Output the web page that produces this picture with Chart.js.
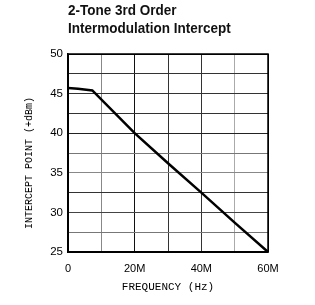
<!DOCTYPE html>
<html><head><meta charset="utf-8">
<script src="https://cdn.jsdelivr.net/npm/chart.js@4"></script>
<style>
html,body{margin:0;padding:0;background:#fff;}
#wrap{position:relative;width:315px;height:305px;}
#title{position:absolute;left:68px;top:1px;font-family:"Liberation Sans Narrow","Liberation Sans",Arial,sans-serif;font-weight:bold;font-size:15px;line-height:18px;color:#111;transform:scaleX(0.9);transform-origin:0 0;white-space:nowrap;}
#ytitle{position:absolute;left:30px;top:163px;width:0;height:0;}
#ytitle span{position:absolute;left:0;top:0;transform:translate(-50%,-50%) rotate(-90deg);white-space:nowrap;font-family:"Liberation Mono",monospace;font-size:10px;line-height:12px;color:#000;}
canvas{position:absolute;left:0;top:0;}
</style></head>
<body><div id="wrap"><canvas id="c" width="315" height="305"></canvas>
<div id="title">2-Tone 3rd Order<br>Intermodulation Intercept</div>
<div id="ytitle"><span id="ytext"></span></div></div>
<script>
const frequencies = [0, 3, 7.3, 20, 30, 40, 50, 60];        // MHz
const interceptPoint = [45.7, 45.6, 45.4, 40, 36.2, 32.5, 28.7, 25]; // +dBm
const xTickLabels = {0:'0', 20:'20M', 40:'40M', 60:'60M'};
const yTicks = [25, 30, 35, 40, 45, 50];
const xTitle = 'FREQUENCY (Hz)';
const yTitle = 'INTERCEPT POINT (+dBm)';
document.getElementById('ytext').textContent = yTitle;

const vColors = {0:'#000',10:'#888',20:'#111',30:'#333',40:'#333',50:'#aaa',60:'#000'};
const hColors = {25:'#000',27.5:'#777',30:'#444',32.5:'#333',35:'#888',37.5:'#777',40:'#222',42.5:'#333',45:'#333',47.5:'#333',50:'#000'};

new Chart(document.getElementById('c'), {
  type: 'line',
  data: {
    datasets: [{
      data: frequencies.map((f, i) => ({x: f, y: interceptPoint[i]})),
      borderColor: '#000', borderWidth: 2.5, pointRadius: 0, tension: 0, fill: false
    }]
  },
  options: {
    responsive: false, animation: false,
    layout: {padding: {top: 54, right: 47, left: 0, bottom: 0}},
    plugins: {legend: {display: false}, tooltip: {enabled: false}},
    scales: {
      x: {
        type: 'linear', min: 0, max: 60,
        afterFit: s => { s.height = 53; },
        border: {display: true, color: '#000', width: 1.5},
        grid: {drawTicks: false, lineWidth: 1, color: c => vColors[c.tick.value] || '#444'},
        ticks: {stepSize: 10, autoSkip: false, maxRotation: 0, padding: 10, color: '#000',
          font: {family: '"Liberation Sans", Arial, sans-serif', size: 11},
          callback: v => xTickLabels[v] !== undefined ? xTickLabels[v] : ''},
        title: {display: true, text: xTitle, color: '#000', padding: {top: 0, bottom: 11},
          font: {family: '"Liberation Mono", monospace', size: 11}}
      },
      y: {
        type: 'linear', min: 25, max: 50,
        afterFit: s => { s.width = 68; },
        border: {display: true, color: '#000', width: 1.5},
        grid: {drawTicks: false, lineWidth: 1, color: c => hColors[c.tick.value] || '#444'},
        ticks: {stepSize: 2.5, autoSkip: false, padding: 5, color: '#000',
          font: {family: '"Liberation Sans", Arial, sans-serif', size: 11.5},
          callback: v => yTicks.includes(v) ? String(v) : ''},
        title: {display: false}
      }
    }
  },
  plugins: [{
    id: 'frame',
    afterDraw(chart) {
      const {ctx, chartArea: a} = chart;
      ctx.save(); ctx.strokeStyle = '#000'; ctx.lineWidth = 1.5;
      ctx.strokeRect(a.left, a.top, a.right - a.left, a.bottom - a.top);
      ctx.restore();
    }
  }]
});
</script></body></html>
